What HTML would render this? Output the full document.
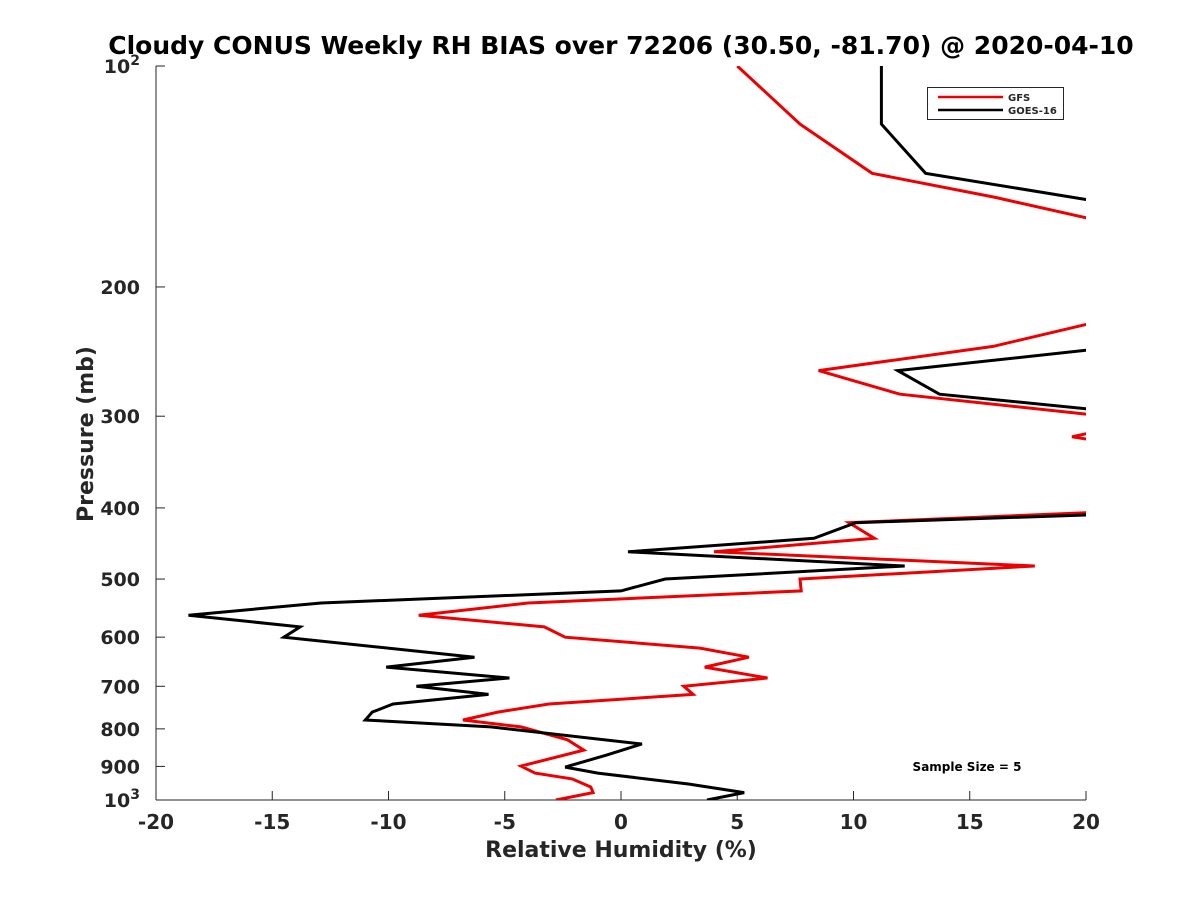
<!DOCTYPE html>
<html><head><meta charset="utf-8"><style>
body{margin:0;background:#fff;}
svg text{font-family:"DejaVu Sans","Liberation Sans",sans-serif;font-weight:bold;fill:#262626;}
</style></head><body>
<svg id="chart" width="1200" height="900" xmlns="http://www.w3.org/2000/svg">
<text x="621" y="54" font-size="25" text-anchor="middle" style="fill:#000">Cloudy CONUS Weekly RH BIAS over 72206 (30.50, -81.70) @ 2020-04-10</text>
<defs><clipPath id="plotclip"><rect x="156" y="66" width="930" height="734"/></clipPath></defs>
<g id="axes"></g>
<g id="series" clip-path="url(#plotclip)"></g>
<g>
<rect x="927.5" y="87.5" width="136" height="32" fill="#fff" stroke="#262626" stroke-width="1"/>
<line x1="938" y1="97" x2="1003" y2="97" stroke="#e00" stroke-width="2.5"/>
<text x="1008" y="101" font-size="10">GFS</text>
<line x1="938" y1="110" x2="1003" y2="110" stroke="#000" stroke-width="2.5"/>
<text x="1008" y="114" font-size="10">GOES-16</text>
</g>
<text x="967" y="771" font-size="12" text-anchor="middle" style="fill:#000">Sample Size = 5</text>
<text x="621" y="857" font-size="22" text-anchor="middle">Relative Humidity (%)</text>
<text x="0" y="0" font-size="22" text-anchor="middle" transform="translate(93,434) rotate(-90)">Pressure (mb)</text>
</svg>
<script>
const xTicks=[-20,-15,-10,-5,0,5,10,15,20];
const yTicks=[100,200,300,400,500,600,700,800,900,1000];
const gfsPressure=[100,120,140,151,161,162,NaN,224,225,241,260,280,298,299,NaN,312,320,326,NaN,405,406,419,440,459,480,500,519,539,560,581,600,621,639,659,682,700,718,740,759,778,795,828,855,899,919,936,960,977,1000];
const gfsBias=[5.0,7.7,10.8,16.1,20,21,NaN,21,20,16.0,8.5,12.0,20,21,NaN,21,19.4,21,NaN,21,20,9.8,10.9,4.0,17.8,7.7,7.75,-4.0,-8.7,-3.3,-2.4,3.4,5.5,3.6,6.3,2.7,3.1,-3.1,-5.3,-6.8,-4.3,-2.3,-1.6,-4.3,-3.7,-2.1,-1.3,-1.2,-2.8];
const goesPressure=[100,120,140,152,153,NaN,242,244,260,280,293,294,NaN,408,409,419,440,459,480,500,519,539,560,581,600,639,659,682,700,718,740,759,778,795,839,868,902,919,951,977,1000];
const goesBias=[11.2,11.2,13.1,20,21,NaN,21,20,11.9,13.7,20,21,NaN,21,20,10.1,8.3,0.3,12.2,1.9,0,-12.9,-18.6,-13.8,-14.5,-6.3,-10.1,-4.8,-8.8,-5.7,-9.8,-10.7,-11.0,-5.6,0.9,-0.6,-2.4,-1.0,2.9,5.3,3.7];
const NS='http://www.w3.org/2000/svg';
const X0=156,X1=1086,Y0=66,Y1=800;
function xs(v){return X0+(v+20)/40*(X1-X0);}
function ys(p){return Y0+(Math.log10(p)-2)*(Y1-Y0);}
const axes=document.getElementById('axes');
function mk(tag,attrs,parent){const e=document.createElementNS(NS,tag);for(const k in attrs)e.setAttribute(k,attrs[k]);parent.appendChild(e);return e;}
const xl=mk('line',{x1:X0,y1:Y1,x2:X1,y2:Y1,stroke:'#262626','stroke-width':1},axes);


const yl=mk('line',{x1:X0,y1:Y0,x2:X0,y2:Y1,stroke:'#262626','stroke-width':1},axes);


xTicks.forEach(t=>{
  const x=xs(t);
  mk('line',{x1:x,y1:Y1,x2:x,y2:Y1-9,stroke:'#262626'},axes);
  const tx=mk('text',{x:x,y:829,'font-size':20,'text-anchor':'middle'},axes);
  tx.textContent=String(t);
  
  
});
yTicks.forEach(p=>{
  const y=ys(p);
  mk('line',{x1:X0,y1:y,x2:X0+9,y2:y,stroke:'#262626'},axes);
  const tx=mk('text',{x:140,y:y+7,'font-size':19,'text-anchor':'end'},axes);
  if(p===100||p===1000){
    tx.textContent='10';
    const s=mk('tspan',{dy:-8,'font-size':14},tx);s.textContent=p===100?'2':'3';
  } else tx.textContent=String(p);
  
  
});
function drawSeries(ps,vs,color,name){
  let d='',pen=false;
  for(let i=0;i<ps.length;i++){
    if(isNaN(ps[i])||isNaN(vs[i])){pen=false;continue;}
    d+=(pen?'L':'M')+xs(vs[i]).toFixed(1)+' '+ys(ps[i]).toFixed(1)+' ';pen=true;
  }
  const path=mk('path',{d:d,fill:'none',stroke:color,'stroke-width':3,'stroke-linejoin':'miter'},document.getElementById('series'));
  
  
}
drawSeries(gfsPressure,gfsBias,'#e00','gfs-line');
drawSeries(goesPressure,goesBias,'#000','goes16-line');
</script>
</body></html>
